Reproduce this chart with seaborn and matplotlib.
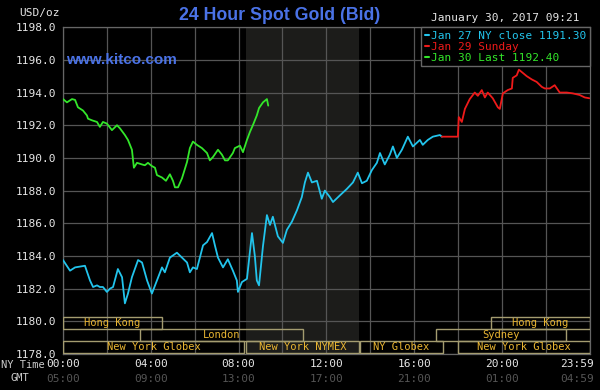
import matplotlib
matplotlib.use("Agg")
import matplotlib.pyplot as plt
import matplotlib.transforms as mtransforms
from matplotlib.patches import Rectangle
from matplotlib.lines import Line2D
import pandas as pd
import seaborn as sns

# hours after 00:00 NY time, price in USD/oz
jan27_hours = [0.00, 0.32, 0.55, 1.00, 1.23, 1.37, 1.55, 1.68, 1.82, 2.00, 2.14, 2.28, 2.50, 2.69,
               2.82, 2.96, 3.14, 3.42, 3.60, 3.83, 4.05, 4.28, 4.51, 4.64, 4.87, 5.19, 5.42, 5.65,
               5.78, 5.92, 6.10, 6.38, 6.56, 6.79, 6.92, 7.06, 7.29, 7.51, 7.74, 7.92, 7.97, 8.15,
               8.38, 8.61, 8.74, 8.83, 8.93, 9.11, 9.29, 9.43, 9.56, 9.79, 10.02, 10.20, 10.43,
               10.66, 10.88, 11.02, 11.16, 11.34, 11.57, 11.79, 11.93, 12.16, 12.30, 12.61, 12.93,
               13.21, 13.43, 13.62, 13.84, 14.07, 14.30, 14.44, 14.66, 14.89, 15.03, 15.21, 15.44,
               15.71, 15.94, 16.26, 16.39, 16.62, 16.85, 17.17, 17.26]
jan27_price = [1183.75, 1183.1, 1183.3, 1183.4, 1182.5, 1182.1, 1182.2, 1182.1, 1182.1, 1181.8,
               1182.0, 1182.1, 1183.2, 1182.7, 1181.1, 1181.7, 1182.7, 1183.75, 1183.6, 1182.5,
               1181.7, 1182.5, 1183.3, 1183.0, 1183.9, 1184.2, 1183.9, 1183.6, 1183.0, 1183.3,
               1183.2, 1184.65, 1184.85, 1185.4, 1184.65, 1183.9, 1183.3, 1183.8, 1183.1, 1182.5,
               1181.8, 1182.4, 1182.6, 1185.4, 1184.0, 1182.5, 1182.2, 1184.6, 1186.5, 1185.9,
               1186.4, 1185.2, 1184.8, 1185.6, 1186.1, 1186.8, 1187.6, 1188.5, 1189.1, 1188.5,
               1188.6, 1187.5, 1188.0, 1187.6, 1187.3, 1187.7, 1188.1, 1188.5, 1189.1, 1188.45,
               1188.6, 1189.25, 1189.7, 1190.3, 1189.6, 1190.2, 1190.7, 1190.0, 1190.5, 1191.3,
               1190.7, 1191.1, 1190.8, 1191.1, 1191.3, 1191.4, 1191.3]

jan29_hours = [17.26, 17.99, 18.03, 18.17, 18.31, 18.53, 18.76, 18.90, 19.08, 19.22, 19.35, 19.58,
               19.81, 19.90, 20.04, 20.26, 20.45, 20.49, 20.67, 20.77, 20.95, 21.13, 21.36, 21.58,
               21.81, 21.95, 22.18, 22.40, 22.63, 22.95, 23.22, 23.54, 23.77, 23.98]
jan29_price = [1191.3, 1191.3, 1192.5, 1192.2, 1193.0, 1193.6, 1194.0, 1193.8, 1194.15, 1193.7,
               1194.0, 1193.65, 1193.1, 1193.0, 1193.95, 1194.15, 1194.25, 1194.9, 1195.05,
               1195.4, 1195.2, 1195.0, 1194.8, 1194.65, 1194.35, 1194.25, 1194.25, 1194.45,
               1194.0, 1194.0, 1193.95, 1193.85, 1193.7, 1193.65]

jan30_hours = [0.00, 0.18, 0.41, 0.55, 0.68, 0.91, 1.09, 1.14, 1.32, 1.55, 1.68, 1.82, 2.00, 2.23,
               2.46, 2.60, 2.82, 2.96, 3.14, 3.23, 3.37, 3.60, 3.73, 3.87, 4.05, 4.19, 4.28, 4.51,
               4.69, 4.87, 5.01, 5.10, 5.24, 5.42, 5.65, 5.78, 5.92, 6.10, 6.33, 6.56, 6.69, 6.83,
               7.06, 7.24, 7.38, 7.51, 7.74, 7.83, 8.06, 8.20, 8.38, 8.52, 8.65, 8.83, 8.93, 9.11,
               9.29, 9.35]
jan30_price = [1193.6, 1193.4, 1193.6, 1193.55, 1193.1, 1192.9, 1192.6, 1192.4, 1192.3, 1192.2,
               1191.9, 1192.2, 1192.1, 1191.7, 1192.0, 1191.8, 1191.4, 1191.1, 1190.5, 1189.4,
               1189.7, 1189.6, 1189.55, 1189.7, 1189.5, 1189.4, 1188.95, 1188.8, 1188.6, 1189.0,
               1188.6, 1188.2, 1188.2, 1188.75, 1189.75, 1190.6, 1191.0, 1190.8, 1190.6, 1190.3,
               1189.85, 1190.05, 1190.5, 1190.2, 1189.85, 1189.85, 1190.3, 1190.6, 1190.75,
               1190.35, 1191.1, 1191.6, 1192.0, 1192.6, 1193.05, 1193.4, 1193.6, 1193.2]

series_labels = ["Jan 27 NY close 1191.30", "Jan 29 Sunday", "Jan 30 Last 1192.40"]
series_colors = ["#22c4ec", "#ee1a1a", "#33e62a"]

session_names = ["Hong Kong", "London", "New York Globex", "New York NYMEX", "NY Globex",
                 "Sydney", "New York Globex", "Hong Kong"]
session_start = [0.0, 3.5, 0.0, 8.33, 13.55, 17.0, 18.0, 19.5]
session_end = [4.5, 10.95, 8.25, 13.5, 17.3, 22.9, 24.0, 24.0]
session_row = [0, 1, 2, 2, 2, 1, 2, 0]

nymex_open, nymex_close = 8 + 20 / 60, 13.5

tick_hours = [0, 4, 8, 12, 16, 20, 23.98]
ny_labels = ["00:00", "04:00", "08:00", "12:00", "16:00", "20:00", "23:59"]
gmt_labels = ["05:00", "09:00", "13:00", "17:00", "21:00", "01:00", "04:59"]

sns.set_style("dark")
plt.rcParams["font.family"] = ["DejaVu Sans Mono"]

fig = plt.figure(figsize=(6, 3.9), dpi=100, facecolor="black")
ax = fig.add_axes([0.105, 0.0923, 0.878, 0.838], facecolor="black")

ax.axvspan(nymex_open, nymex_close, color="#1c1c1a", zorder=0, lw=0)

frames = [pd.DataFrame({"hour": h, "price": p}) for h, p in
          [(jan27_hours, jan27_price), (jan29_hours, jan29_price), (jan30_hours, jan30_price)]]
for df, col in zip(frames, series_colors):
    sns.lineplot(data=df, x="hour", y="price", color=col, lw=1.3, ax=ax, zorder=3)

ax.set_xlim(0, 24)
ax.set_ylim(1178, 1198)
ax.set_xticks(range(0, 24, 2))
ax.set_yticks(range(1178, 1199, 2))
ax.set_yticklabels([f"{v:.1f}" for v in range(1178, 1199, 2)], color="#e6e6e6", fontsize=8)
ax.set_xticklabels([])
ax.tick_params(length=0, pad=5)
ax.grid(True, color="#555555", lw=0.9, zorder=1)
ax.set_xlabel("")
ax.set_ylabel("")
for s in ax.spines.values():
    s.set_visible(True)
    s.set_color("#666666")
    s.set_linewidth(0.9)

# trading session boxes
row_top = [1180.26, 1179.53, 1178.8]
row_h = 0.72
for name, a, b, r in zip(session_names, session_start, session_end, session_row):
    y0 = row_top[r] - row_h
    ax.add_patch(Rectangle((a, y0), b - a, row_h, fill=False, edgecolor="#a49c70",
                           lw=1.0, zorder=4, clip_on=True))
    ax.text((a + b) / 2, y0 + row_h / 2, name, color="#eab632", fontsize=7.5,
            ha="center", va="center", zorder=5)

# bottom time labels (the last one sits flush with the right edge)
trans = mtransforms.blended_transform_factory(ax.transData, ax.transAxes)
for h, ny, gmt in zip(tick_hours, ny_labels, gmt_labels):
    ha, off = ("right", 0.2) if h > 23 else ("center", 0)
    ax.text(h + off, -0.032, ny, color="#e6e6e6", fontsize=8, ha=ha, va="center",
            transform=trans, clip_on=False)
    ax.text(h + off, -0.075, gmt, color="#555555", fontsize=8, ha=ha, va="center",
            transform=trans, clip_on=False)
fig.text(23 / 600, 1 - 365 / 390, "NY Time", color="#cccccc", fontsize=7.5, ha="center", va="center")
fig.text(20 / 600, 1 - 378 / 390, "GMT", color="#cccccc", fontsize=7.5, ha="center", va="center")
fig.text(39 / 600, 1 - 13 / 390, "USD/oz", color="#e6e6e6", fontsize=8, ha="center", va="center")

fig.text(280 / 600, 1 - 15 / 390, "24 Hour Spot Gold (Bid)", color="#4a72e6", fontsize=12.8,
         fontweight="bold", family="Liberation Sans", ha="center", va="center")
ax.text(0.005, 0.9, "www.kitco.com", color="#4a72e6", fontsize=11, fontweight="bold",
        family="Liberation Sans", ha="left", va="center", transform=ax.transAxes, zorder=6)
fig.text(505 / 600, 1 - 18 / 390, "January 30, 2017 09:21", color="#e6e6e6", fontsize=8,
         ha="center", va="center")

handles = [Line2D([], [], color=c, lw=1.5) for c in series_colors]
leg = ax.legend(handles, series_labels, loc="upper right", bbox_to_anchor=(1.0, 1.0),
                borderaxespad=0, frameon=True, fancybox=False, framealpha=1,
                facecolor="black", edgecolor="#666666", labelcolor=series_colors,
                prop={"family": "DejaVu Sans Mono", "size": 8}, handlelength=0.4,
                handletextpad=0.2, labelspacing=0.1, borderpad=0.3)
leg.set_zorder(10)

fig.savefig("out.png", dpi=100, facecolor="black")
